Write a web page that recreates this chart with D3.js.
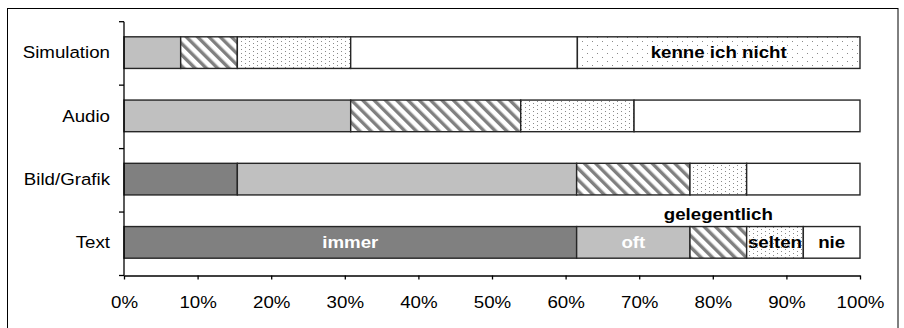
<!DOCTYPE html>
<html>
<head>
<meta charset="utf-8">
<script src="https://cdn.jsdelivr.net/npm/d3@7"></script>
<style>
  html, body { margin: 0; padding: 0; background: #fff; }
  svg text { font-family: "Liberation Sans", Arial, sans-serif; }
</style>
</head>
<body>
<svg id="chart" width="904" height="328"></svg>
<script>
// Usage frequency per medium (percent of answers)
const categories = ["Simulation", "Audio", "Bild/Grafik", "Text"];
const seriesKeys = ["immer", "oft", "gelegentlich", "selten", "nie", "kenne ich nicht"];
const immer        = [0,    0,    15.4, 61.5];
const oft          = [7.7,  30.8, 46.1, 15.4];
const gelegentlich = [7.7,  23.1, 15.4, 7.7];
const selten       = [15.4, 15.4, 7.7,  7.7];
const nie          = [30.8, 30.7, 15.4, 7.7];
const kenneNicht   = [38.4, 0,    0,    0];
const xTicks = [0, 10, 20, 30, 40, 50, 60, 70, 80, 90, 100];

const rows = categories.map((c, i) => ({
  cat: c,
  "immer": immer[i],
  "oft": oft[i],
  "gelegentlich": gelegentlich[i],
  "selten": selten[i],
  "nie": nie[i],
  "kenne ich nicht": kenneNicht[i]
}));

const FONT = 17;
const STRETCH = 1.1;   // text is drawn slightly wide

const svg = d3.select("#chart");
const defs = svg.append("defs");

// diagonal hatch
const hatch = defs.append("pattern").attr("id", "hatch")
  .attr("patternUnits", "userSpaceOnUse").attr("width", 8).attr("height", 8)
  .attr("patternTransform", "rotate(-45)");
hatch.append("rect").attr("width", 8).attr("height", 8).attr("fill", "#fff");
hatch.append("rect").attr("width", 3.4).attr("height", 8).attr("fill", "#808080");

// fine dots
const dots = defs.append("pattern").attr("id", "dots")
  .attr("patternUnits", "userSpaceOnUse").attr("width", 8).attr("height", 4);
dots.append("rect").attr("width", 8).attr("height", 4).attr("fill", "#fff");
dots.append("rect").attr("x", 1).attr("y", 1).attr("width", 1).attr("height", 1).attr("fill", "#8a8a8a");
dots.append("rect").attr("x", 5).attr("y", 3).attr("width", 1).attr("height", 1).attr("fill", "#8a8a8a");

// sparse dots
const sparse = defs.append("pattern").attr("id", "sparse")
  .attr("patternUnits", "userSpaceOnUse").attr("width", 10).attr("height", 8);
sparse.append("rect").attr("width", 10).attr("height", 8).attr("fill", "#fff");
sparse.append("rect").attr("x", 2).attr("y", 1).attr("width", 1).attr("height", 1).attr("fill", "#8a8a8a");
sparse.append("rect").attr("x", 7).attr("y", 5).attr("width", 1).attr("height", 1).attr("fill", "#8a8a8a");

const fills = {
  "immer": "#808080",
  "oft": "#c0c0c0",
  "gelegentlich": "url(#hatch)",
  "selten": "url(#dots)",
  "nie": "#ffffff",
  "kenne ich nicht": "url(#sparse)"
};

// outer frame
svg.append("rect").attr("x", 7.5).attr("y", 8.5).attr("width", 890.5).attr("height", 330)
  .attr("fill", "none").attr("stroke", "#000").attr("stroke-width", 1);

const x = d3.scaleLinear().domain([0, 100]).range([124, 860]);
const y = d3.scaleBand().domain(categories).range([21, 274]).paddingInner(0.5).paddingOuter(0.25);
const axisTop = 21.7, axisBottom = 275.5;

const stacked = d3.stack().keys(seriesKeys)(rows);

const g = svg.append("g");
stacked.forEach(layer => {
  g.append("g").selectAll("rect")
    .data(layer.filter(d => d[1] - d[0] > 0))
    .join("rect")
    .attr("x", d => x(d[0]))
    .attr("y", d => y(d.data.cat))
    .attr("width", d => x(d[1]) - x(d[0]))
    .attr("height", y.bandwidth())
    .attr("fill", fills[layer.key])
    .attr("stroke", "#262626")
    .attr("stroke-width", 1.4);
});

// y axis line with category boundary ticks
const bounds = categories.map((c, i) => axisTop + i * (axisBottom - axisTop) / categories.length).concat([axisBottom]);
svg.append("line").attr("x1", x(0)).attr("x2", x(0)).attr("y1", axisTop).attr("y2", axisBottom)
  .attr("stroke", "#000").attr("stroke-width", 1.3);
svg.append("g").selectAll("line").data(bounds).join("line")
  .attr("x1", x(0) - 5).attr("x2", x(0)).attr("y1", d => d).attr("y2", d => d)
  .attr("stroke", "#000").attr("stroke-width", 1.3);

// x axis
const xAxis = d3.axisBottom(x).tickValues(xTicks).tickFormat(d => d + "%").tickSize(4).tickSizeOuter(0);
const xg = svg.append("g").attr("transform", `translate(0,${axisBottom})`).call(xAxis);
xg.select(".domain").attr("stroke", "#000").attr("stroke-width", 1.3);
xg.selectAll(".tick line").attr("stroke", "#000").attr("stroke-width", 1.3);
xg.selectAll(".tick text")
  .attr("font-size", FONT).attr("fill", "#000")
  .attr("y", 27).attr("dy", "0.35em")
  .attr("transform", `scale(${STRETCH},1)`)
  .style("font-family", "'Liberation Sans', Arial, sans-serif");

// category labels
svg.append("g").selectAll("text").data(categories).join("text")
  .attr("transform", d => `translate(110,${y(d) + y.bandwidth() / 2}) scale(${STRETCH},1)`)
  .attr("text-anchor", "end").attr("dominant-baseline", "central")
  .attr("font-size", FONT).attr("fill", "#000")
  .text(d => d);

// segment labels
function segMid(key, row) {
  const layer = stacked.find(l => l.key === key);
  const d = layer[categories.indexOf(row)];
  return x((d[0] + d[1]) / 2);
}
const labels = [
  { key: "immer", row: "Text", color: "#fff", dy: 0 },
  { key: "oft", row: "Text", color: "#fff", dy: 0 },
  { key: "gelegentlich", row: "Text", color: "#000", dy: -28 },
  { key: "selten", row: "Text", color: "#000", dy: 0 },
  { key: "nie", row: "Text", color: "#000", dy: 0 },
  { key: "kenne ich nicht", row: "Simulation", color: "#000", dy: 0 }
];
svg.append("g").selectAll("text").data(labels).join("text")
  .attr("transform", d => `translate(${segMid(d.key, d.row)},${y(d.row) + y.bandwidth() / 2 + d.dy}) scale(${STRETCH},1)`)
  .attr("text-anchor", "middle").attr("dominant-baseline", "central")
  .attr("font-size", FONT).attr("font-weight", "bold").attr("fill", d => d.color)
  .text(d => d.key);
</script>
</body>
</html>
